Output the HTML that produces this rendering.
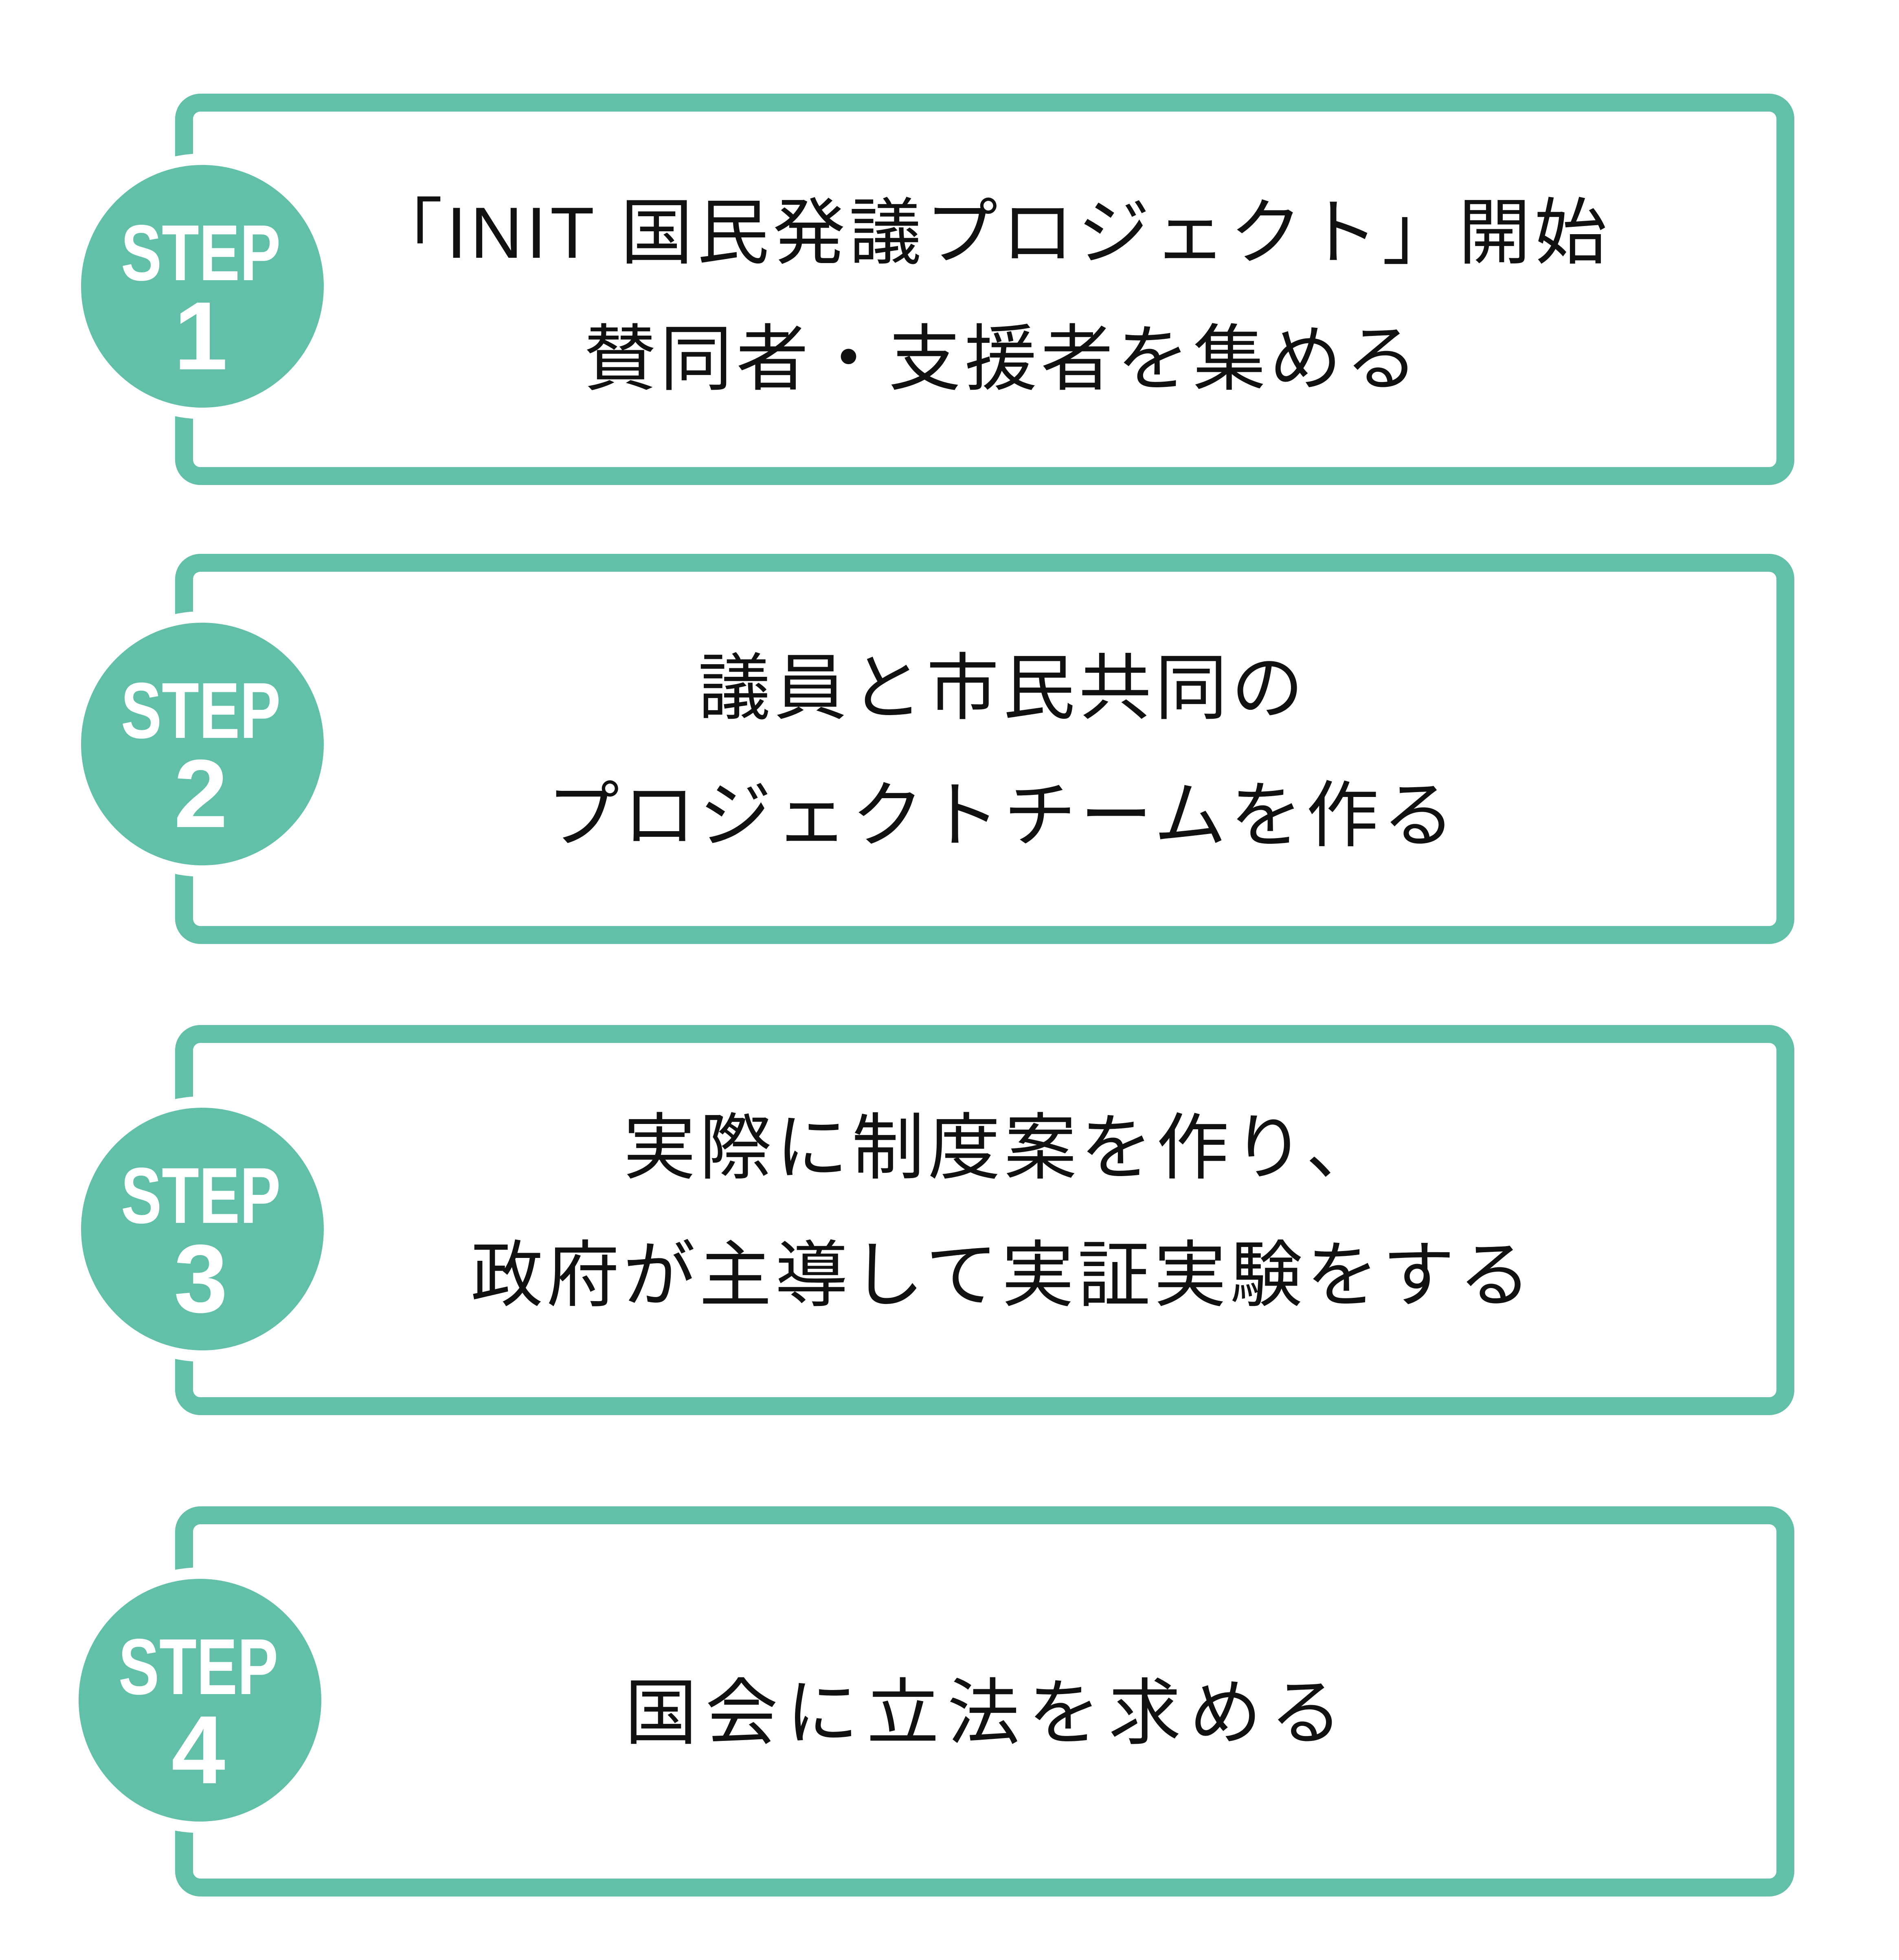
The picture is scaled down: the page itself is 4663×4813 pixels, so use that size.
<!DOCTYPE html>
<html><head><meta charset="utf-8"><style>
html,body{margin:0;padding:0;background:#fff;}
svg{display:block;}
.t{font-family:"Liberation Sans","Noto Sans CJK JP",sans-serif;font-size:178px;fill:#111;letter-spacing:9px;text-anchor:middle;}
.s{font-family:"Liberation Sans",sans-serif;font-weight:bold;fill:#fff;text-anchor:middle;}
</style></head><body>
<svg width="4663" height="4813" viewBox="0 0 4663 4813" xmlns="http://www.w3.org/2000/svg">
<rect width="4663" height="4813" fill="#fff"/>
<g fill="none" stroke="#62bfa8" stroke-width="44">
<rect x="452" y="252" width="3932" height="917" rx="40"/>
<rect x="452" y="1382" width="3932" height="914" rx="40"/>
<rect x="452" y="2539" width="3932" height="914" rx="40"/>
<rect x="452" y="3721" width="3932" height="914" rx="40"/>
</g>
<g fill="#62bfa8" stroke="#fff" stroke-width="28">
<circle cx="497" cy="703" r="312"/>
<circle cx="497" cy="1827" r="312"/>
<circle cx="497" cy="3018" r="312"/>
<circle cx="491" cy="4175" r="312"/>
</g>
<g class="s">
<text transform="translate(493,688) scale(0.77,1)" font-size="195">STEP</text>
<text x="493" y="907" font-size="238">1</text>
<text transform="translate(493,1812) scale(0.77,1)" font-size="195">STEP</text>
<text x="493" y="2031" font-size="238">2</text>
<text transform="translate(493,3003) scale(0.77,1)" font-size="195">STEP</text>
<text x="493" y="3222" font-size="238">3</text>
<text transform="translate(487,4160) scale(0.77,1)" font-size="195">STEP</text>
<text x="487" y="4379" font-size="238">4</text>
</g>
<g class="t">
<text x="2432" y="633">「INIT 国民発議プロジェクト」開始</text>
<text x="2462" y="943">賛同者・支援者を集める</text>
<text x="2462" y="1751">議員と市民共同の</text>
<text x="2462" y="2064">プロジェクトチームを作る</text>
<text x="2462" y="2880">実際に制度案を作り、</text>
<text x="2462" y="3193">政府が主導して実証実験をする</text>
<text x="2425" y="4268" style="letter-spacing:20px">国会に立法を求める</text>
</g>
</svg>
</body></html>
